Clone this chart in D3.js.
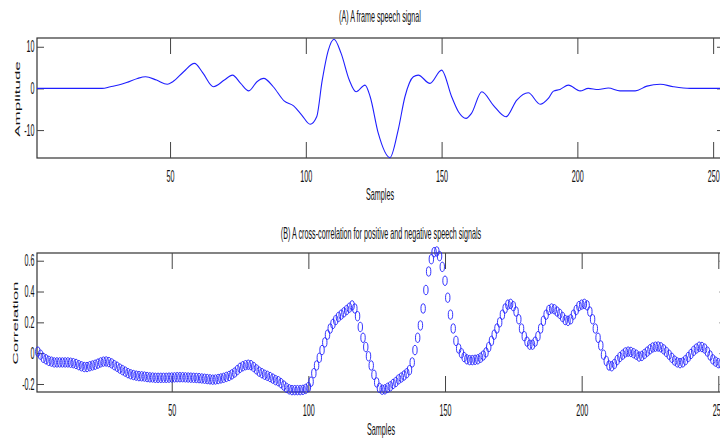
<!DOCTYPE html>
<html>
<head>
<meta charset="utf-8">
<script src="https://cdn.jsdelivr.net/npm/d3@7"></script>
<style>
    body { margin: 0; background: #fff; }
    svg { display: block; font-family: Arial, "Liberation Sans", sans-serif; }
</style>
</head>
<body>
<div class="visholder"></div>
<script>
// (A) speech frame: sample positions and amplitudes
const ampSamples = [1, 25, 28, 31, 34, 38, 41, 45, 49, 51,
    55, 59, 62, 66, 70, 73, 76, 79, 82, 84.5,
    88, 92, 95.5, 98.5, 101.6, 104, 106, 108.3, 110.4, 113,
    116, 118.5, 121.8, 123.7, 126.7, 131, 134, 136.5, 139.6, 141.4,
    145.7, 150, 153.7, 156.2, 159, 161, 164.8, 169, 173.7, 177.7,
    181.9, 186.3, 189.3, 191.2, 193.6, 196.7, 201, 204, 207.7, 211.4,
    215.7, 221.3, 225.6, 230.5, 235.4, 241.5, 254];
const ampValues = [0, 0, 0.4, 0.8, 1.4, 2.4, 2.8, 2.0, 1.0, 1.6,
    4.0, 6.0, 3.8, 0.4, 2.0, 3.2, 1.2, -0.6, 1.6, 2.4,
    0.4, -3.0, -4.2, -6.4, -8.6, -6.8, 1.8, 9.2, 11.8, 8.4,
    2.0, -0.8, 0.8, -2.0, -10.8, -16.6, -10, -2.0, 2.8, 3.2,
    1.2, 4.4, -2.0, -5.6, -7.2, -6.0, -0.8, -4.0, -6.8, -2.8,
    -1.05, -3.8, -2.4, -0.65, -0.25, 0.8, -0.6, 0, -0.25, 0.1,
    -0.6, -0.6, 0.55, 1.0, 0.4, 0, 0];

// (B) cross-correlation, one value per sample starting at sample 1
const corrValues = [
    0.01, -0.01, -0.03, -0.04, -0.05, -0.055, -0.06, -0.06, -0.06, -0.06,
    -0.06, -0.06, -0.062, -0.065, -0.07, -0.078, -0.085, -0.09, -0.09,
    -0.085, -0.08, -0.075, -0.068, -0.06, -0.055, -0.054, -0.058, -0.066, -0.078,
    -0.088, -0.1, -0.11, -0.12, -0.13, -0.137, -0.142, -0.146, -0.149, -0.15,
    -0.152, -0.155, -0.157, -0.158, -0.16, -0.16, -0.16, -0.16, -0.16, -0.159,
    -0.158, -0.157, -0.156, -0.156, -0.156, -0.157, -0.158, -0.159, -0.16, -0.161,
    -0.162, -0.164, -0.166, -0.168, -0.17, -0.172, -0.171, -0.168, -0.164, -0.16,
    -0.154, -0.148, -0.138, -0.126, -0.11, -0.095, -0.085, -0.078, -0.075, -0.078,
    -0.09, -0.105, -0.12, -0.13, -0.14, -0.147, -0.155, -0.165, -0.175, -0.182,
    -0.195, -0.21, -0.225, -0.235, -0.24, -0.24, -0.24, -0.24, -0.238, -0.232,
    -0.22, -0.185, -0.13, -0.08, -0.03, 0.02, 0.07, 0.12, 0.16, 0.19,
    0.215, 0.235, 0.25, 0.265, 0.28, 0.295, 0.31, 0.29, 0.24, 0.17,
    0.1, 0.04, -0.02, -0.08, -0.14, -0.19, -0.225, -0.237, -0.235, -0.225,
    -0.215, -0.2, -0.187, -0.17, -0.158, -0.145, -0.13, -0.11, -0.06, 0.02,
    0.1, 0.18, 0.29, 0.41, 0.53, 0.61, 0.655, 0.66, 0.63, 0.56,
    0.47, 0.36, 0.25, 0.16, 0.08, 0.03, 0.0, -0.025, -0.04, -0.045,
    -0.045, -0.043, -0.04, -0.03, -0.015, 0.005, 0.04, 0.08, 0.12, 0.16,
    0.2, 0.25, 0.29, 0.315, 0.32, 0.305, 0.27, 0.22, 0.16, 0.11,
    0.075, 0.055, 0.055, 0.075, 0.11, 0.16, 0.21, 0.25, 0.28, 0.29,
    0.285, 0.27, 0.255, 0.235, 0.215, 0.21, 0.22, 0.25, 0.28, 0.305,
    0.315, 0.32, 0.31, 0.27, 0.22, 0.16, 0.1, 0.05, -0.01, -0.05,
    -0.08, -0.085, -0.07, -0.045, -0.025, -0.01, 0.005, 0.01, 0.008, 0.0,
    -0.01, -0.022, -0.018, -0.005, 0.01, 0.025, 0.037, 0.042, 0.043,
    0.038, 0.025, 0.008, -0.01, -0.03, -0.048, -0.06, -0.065, -0.06, -0.045,
    -0.025, -0.005, 0.015, 0.03, 0.042, 0.04, 0.03, 0.01, -0.015, -0.04,
    -0.055, -0.065, -0.07];

const sampleTicks = [50, 100, 150, 200, 250];
const ampTicks = [-10, 0, 10];
const corrTicks = [-0.2, 0, 0.2, 0.4, 0.6];

const width = 720,
    height = 439,
    squeeze = 0.45; // the figure is squashed sideways

const svg = d3.select(".visholder")
    .append("svg")
    .attr("width", width)
    .attr("height", height);

function squeezed(g, x, y, txt, anchor) {
    return g.append("text")
        .attr("transform", `translate(${x},${y}) scale(${squeeze},1)`)
        .attr("text-anchor", anchor || "middle")
        .attr("font-size", 16)
        .attr("fill", "#111")
        .text(txt);
}

function panel(opt) {
    const g = svg.append("g");
    const x = d3.scaleLinear().domain(opt.xDomain).range([opt.left, opt.right]);
    const y = d3.scaleLinear().domain(opt.yDomain).range([opt.bottom, opt.top]);

    g.append("rect")
        .attr("x", opt.left)
        .attr("y", opt.top)
        .attr("width", opt.right - opt.left)
        .attr("height", opt.bottom - opt.top)
        .attr("fill", "none")
        .attr("stroke", "#333")
        .attr("stroke-width", 1.2);

    const xb = g.append("g")
        .attr("transform", `translate(0,${opt.bottom})`)
        .call(d3.axisBottom(x).tickValues(sampleTicks).tickSizeInner(-16).tickSizeOuter(0).tickPadding(13));
    const xt = g.append("g")
        .attr("transform", `translate(0,${opt.top})`)
        .call(d3.axisTop(x).tickValues(sampleTicks).tickSizeInner(-16).tickSizeOuter(0).tickFormat(""));
    const yl = g.append("g")
        .attr("transform", `translate(${opt.left},0)`)
        .call(d3.axisLeft(y).tickValues(opt.yTicks).tickSizeInner(-7).tickSizeOuter(0).tickPadding(5.5)
            .tickFormat(d => String(d)));
    const yr = g.append("g")
        .attr("transform", `translate(${opt.right},0)`)
        .call(d3.axisRight(y).tickValues(opt.yTicks).tickSizeInner(-7).tickSizeOuter(0).tickFormat(""));

    [xb, xt, yl, yr].forEach(a => {
        a.select(".domain").remove();
        a.selectAll("line").attr("stroke", "#444");
        a.selectAll("text")
            .attr("font-size", 16)
            .attr("font-family", "Arial, 'Liberation Sans', sans-serif")
            .attr("fill", "#111")
            .attr("transform", `scale(${squeeze},1)`);
    });

    squeezed(g, opt.titleX, opt.titleY, opt.title);
    squeezed(g, opt.titleX, opt.labelY, "Samples");

    g.append("text")
        .attr("transform", `translate(${opt.yLabelX},${opt.yLabelY}) rotate(-90) scale(1,${squeeze})`)
        .attr("text-anchor", "middle")
        .attr("font-size", 17)
        .attr("fill", "#111")
        .text(opt.yLabel);

    return { g: g, x: x, y: y };
}

// (A)
const a = panel({
    left: 37, right: 724, top: 38, bottom: 158,
    xDomain: [1, 254], yDomain: [-16.7, 12.1], yTicks: ampTicks,
    title: "(A) A frame speech signal", titleX: 380, titleY: 22, labelY: 200,
    yLabel: "Amplitude", yLabelX: 19.5, yLabelY: 99
});

const ampPoints = ampSamples.map((s, i) => [s, ampValues[i]]);
a.g.append("path")
    .datum(ampPoints)
    .attr("fill", "none")
    .attr("stroke", "#1f1fff")
    .attr("stroke-width", 1.1)
    .attr("d", d3.line()
        .x(d => a.x(d[0]))
        .y(d => a.y(d[1]))
        .curve(d3.curveMonotoneX));

// (B)
const b = panel({
    left: 37, right: 726.5, top: 253, bottom: 392,
    xDomain: [0.7, 253], yDomain: [-0.252, 0.65], yTicks: corrTicks,
    title: "(B) A cross-correlation for positive and negative speech signals",
    titleX: 381, titleY: 239, labelY: 435,
    yLabel: "Correlation", yLabelX: 18, yLabelY: 323
});

b.g.selectAll(".dot")
    .data(corrValues)
    .enter()
    .append("ellipse")
    .attr("class", "dot")
    .attr("cx", (d, i) => b.x(i + 1))
    .attr("cy", d => b.y(d))
    .attr("rx", 2.2)
    .attr("ry", 4.7)
    .attr("fill", "none")
    .attr("stroke", "#1f1fff")
    .attr("stroke-width", 0.9);
</script>
</body>
</html>
